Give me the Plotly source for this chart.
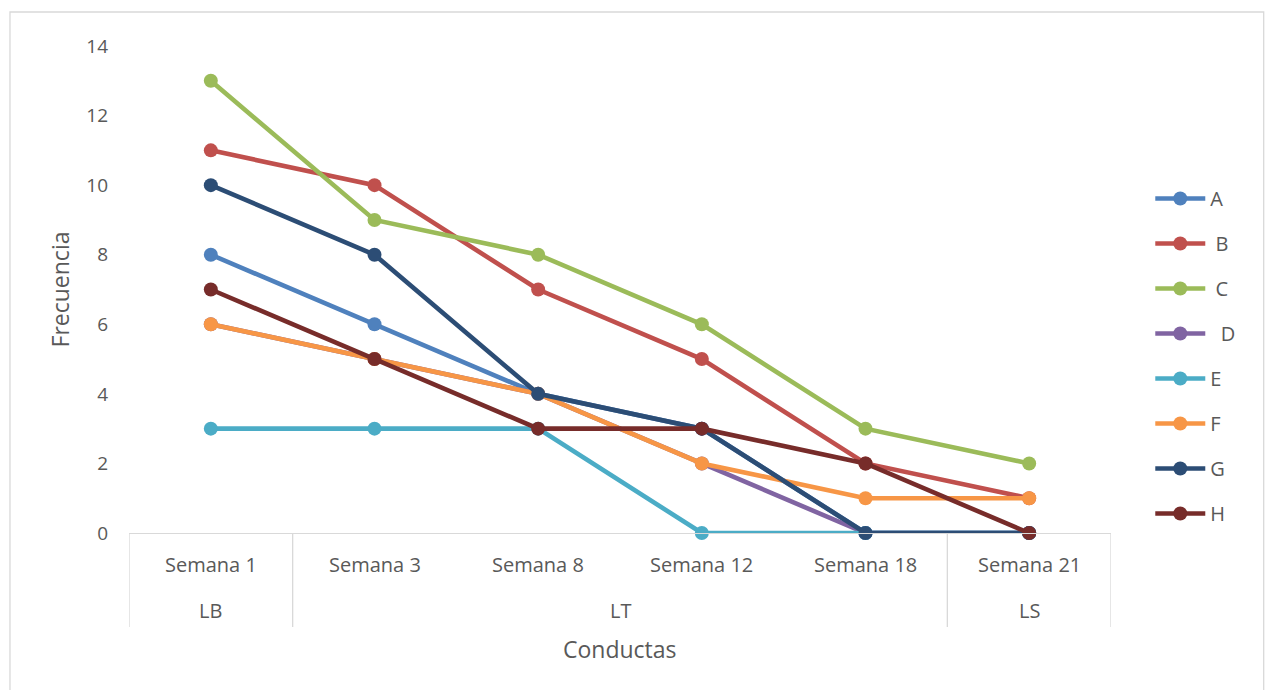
import plotly.graph_objects as go

# Weeks on the x axis and the phase each one belongs to
weeks = ["Semana 1", "Semana 3", "Semana 8", "Semana 12", "Semana 18", "Semana 21"]
phases = ["LB", "LT", "LT", "LT", "LT", "LS"]

# Frequency per behaviour
series_names = ["A", "\u00a0B", "\u00a0C", "\u00a0\u00a0D", "E", "F", "G", "H"]
A = [8, 6, 4, 3, 0, 0]
B = [11, 10, 7, 5, 2, 1]
C = [13, 9, 8, 6, 3, 2]
D = [6, 5, 4, 2, 0, 0]
E = [3, 3, 3, 0, 0, 0]
F = [6, 5, 4, 2, 1, 1]
G = [10, 8, 4, 3, 0, 0]
H = [7, 5, 3, 3, 2, 0]
y_ticks = [0, 2, 4, 6, 8, 10, 12, 14]

values = [A, B, C, D, E, F, G, H]
colors = ["#4F81BD", "#C0504D", "#9BBB59", "#8064A2",
          "#4BACC6", "#F79646", "#2C4D75", "#772C2A"]

FONT = "Open Sans"
TXT = "#595959"
GRID = "#D9D9D9"

x_idx = list(range(len(weeks)))

fig = go.Figure()
for i, (name, vals, col) in enumerate(zip(series_names, values, colors)):
    fig.add_trace(go.Scatter(
        x=x_idx, y=vals, name=name, mode="lines+markers",
        line=dict(color=col, width=4.6),
        marker=dict(color=col, size=14),
        cliponaxis=False, legendgroup=str(i),
    ))

# Axis text under the plot: week labels, phase labels, dividers
annotations = []
for i, w in enumerate(weeks):
    annotations.append(dict(x=i, xref="x", y=-0.0637, yref="paper", text=w,
                            showarrow=False, yanchor="middle",
                            font=dict(family=FONT, size=20, color=TXT)))

shapes = []
bounds = [-0.5]
groups = []
start = 0
for i in range(1, len(phases) + 1):
    if i == len(phases) or phases[i] != phases[start]:
        groups.append((phases[start], start, i - 1))
        bounds.append(i - 0.5)
        start = i
for label, a, b in groups:
    annotations.append(dict(x=(a + b) / 2, xref="x", y=-0.16, yref="paper",
                            text=label, showarrow=False, yanchor="middle",
                            font=dict(family=FONT, size=20, color=TXT)))
for bx in bounds:
    shapes.append(dict(type="line", xref="x", yref="paper", x0=bx, x1=bx,
                       y0=0, y1=-0.193, line=dict(color=GRID, width=1.3)))

annotations.append(dict(x=0.5, xref="paper", y=-0.2375, yref="paper",
                        text="Conductas", showarrow=False, yanchor="middle",
                        font=dict(family=FONT, size=23, color=TXT)))
annotations.append(dict(x=-0.0703, xref="paper", y=0.5, yref="paper",
                        text="Frecuencia", showarrow=False, textangle=-90,
                        xanchor="center", yanchor="middle",
                        font=dict(family=FONT, size=23, color=TXT)))

# Outer chart border
shapes.append(dict(type="rect", xref="paper", yref="paper",
                   x0=-0.1212, x1=1.1555, y0=-0.35, y1=1.0698,
                   line=dict(color=GRID, width=1.3), layer="below"))

fig.update_layout(
    width=1270, height=690,
    margin=dict(l=129, r=159, t=46, b=157, autoexpand=False),
    paper_bgcolor="white", plot_bgcolor="white",
    font=dict(family=FONT, color=TXT),
    xaxis=dict(range=[-0.5, len(weeks) - 0.5], showticklabels=False,
               showgrid=False, zeroline=False, showline=True,
               linecolor=GRID, linewidth=1.3, ticks=""),
    yaxis=dict(range=[0, 14], tickvals=y_ticks, showgrid=False,
               zeroline=False, showline=False, ticks="",
               ticklabelstandoff=20,
               tickfont=dict(family=FONT, size=19, color=TXT)),
    legend=dict(x=1.04, y=0.727, xanchor="left", yanchor="top",
                tracegroupgap=16, itemwidth=50,
                font=dict(family=FONT, size=20, color=TXT),
                bgcolor="rgba(0,0,0,0)"),
    annotations=annotations, shapes=shapes,
)

fig.write_html("out.html")
